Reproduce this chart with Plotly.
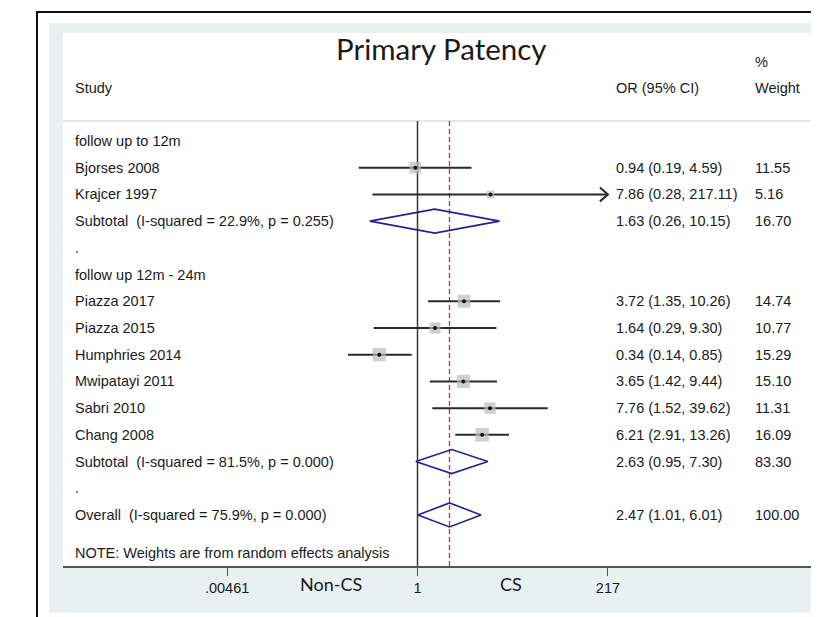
import math
import plotly.graph_objects as go

# ---------------- data ----------------
title = "Primary Patency"
group_labels = ["follow up to 12m", "follow up 12m - 24m"]
group_rows = [0, 5]

studies = ["Bjorses 2008", "Krajcer 1997", "Piazza 2017", "Piazza 2015",
           "Humphries 2014", "Mwipatayi 2011", "Sabri 2010", "Chang 2008"]
study_rows = [1, 2, 6, 7, 8, 9, 10, 11]
study_or = [0.94, 7.86, 3.72, 1.64, 0.34, 3.65, 7.76, 6.21]
study_lo = [0.19, 0.28, 1.35, 0.29, 0.14, 1.42, 1.52, 2.91]
study_hi = [4.59, 217.11, 10.26, 9.30, 0.85, 9.44, 39.62, 13.26]
study_w = [11.55, 5.16, 14.74, 10.77, 15.29, 15.10, 11.31, 16.09]

pooled_labels = ["Subtotal\u00a0 (I-squared = 22.9%, p = 0.255)",
                 "Subtotal\u00a0 (I-squared = 81.5%, p = 0.000)",
                 "Overall\u00a0 (I-squared = 75.9%, p = 0.000)"]
pooled_rows = [3, 12, 14]
pooled_or = [1.63, 2.63, 2.47]
pooled_lo = [0.26, 0.95, 1.01]
pooled_hi = [10.15, 7.30, 6.01]
pooled_w = [16.70, 83.30, 100.00]

spacer_rows = [4, 13]

tick_vals = [0.00461, 1, 217]
tick_text = [".00461", "1", "217"]
favours = ["Non-CS", "CS"]
note = "NOTE: Weights are from random effects analysis"

# ---------------- layout geometry (page pixels; page body has 8px margin) ----------------
OFF = 8
W, H = 819 - OFF, 617 - OFF
ML, MT, MB = 63 - OFF, 33 - OFF, 51
PW, PH = W - ML, H - MT - MB
PX_DEC = 81.5
X_ONE = 417.5
def px2paper_x(px): return (px - OFF - ML) / PW
def py2paper_y(py): return (H - MB - (py - OFF)) / PH

xr = [-(X_ONE - 63) / PX_DEC, (819 - X_ONE) / PX_DEC]
yr = [-15.91, 4.043]

FONT = "Liberation Sans, Arial, sans-serif"
TITLE_FONT = "Lato, Open Sans, sans-serif"
TXT = "#1a1a1a"
fs = 14.5

def fmt_ci(o, l, h):
    return f"{o:.2f} ({l:.2f}, {h:.2f})"

fig = go.Figure()

header_y = 0.749
bottom_y = yr[0]

# null line and overall line
fig.add_trace(go.Scatter(x=[1, 1], y=[header_y, bottom_y], mode="lines",
                         line=dict(color="#3a3a3a", width=1.5), hoverinfo="skip", showlegend=False))
fig.add_trace(go.Scatter(x=[pooled_or[-1]] * 2, y=[header_y, bottom_y], mode="lines",
                         line=dict(color="#c03434", width=1.3, dash="5px,3px"),
                         hoverinfo="skip", showlegend=False))

xmax_tick = tick_vals[-1]
# CI lines
for r, lo, hi in zip(study_rows, study_lo, study_hi):
    y = -r
    hh = min(hi, xmax_tick)
    fig.add_trace(go.Scatter(x=[lo, hh], y=[y, y], mode="lines",
                             line=dict(color="#2a2a2a", width=2), hoverinfo="skip", showlegend=False))
    if hi > xmax_tick:
        back = 10 ** (math.log10(xmax_tick) - 8 / PX_DEC)
        fig.add_trace(go.Scatter(x=[back, xmax_tick, back], y=[y + 0.26, y, y - 0.26], mode="lines",
                                 line=dict(color="#2a2a2a", width=2), hoverinfo="skip", showlegend=False))

# weight boxes
wmax = max(study_w)
fig.add_trace(go.Scatter(
    x=study_or, y=[-r for r in study_rows], mode="markers",
    marker=dict(symbol="square", color="#bababa",
                size=[13.5 * math.sqrt(w / wmax) for w in study_w], line=dict(width=0)),
    hoverinfo="skip", showlegend=False))
fig.add_trace(go.Scatter(
    x=study_or, y=[-r for r in study_rows], mode="markers",
    marker=dict(symbol="circle", color="#111111", size=4),
    hoverinfo="skip", showlegend=False))

# diamonds
for r, o, lo, hi in zip(pooled_rows, pooled_or, pooled_lo, pooled_hi):
    y = -r
    h = 0.45
    fig.add_trace(go.Scatter(x=[lo, o, hi, o, lo], y=[y, y + h, y, y - h, y], mode="lines",
                             line=dict(color="#23238a", width=1.6), hoverinfo="skip", showlegend=False))

ann = []
def add_text(text, px, y, yref="y", size=fs, font=FONT, xanchor="left", color=TXT):
    ann.append(dict(text=text, x=px2paper_x(px), xref="paper", y=y, yref=yref,
                    xanchor=xanchor, yanchor="middle", showarrow=False,
                    font=dict(family=font, size=size, color=color)))

COL_L, COL_OR, COL_W = 73, 614, 753
# headers
add_text(title, 441, 3.46, size=29.5, font=TITLE_FONT, xanchor="center")
add_text("Study", COL_L, 1.98)
add_text("OR (95% CI)", COL_OR, 1.98)
add_text("%", COL_W, 2.96)
add_text("Weight", COL_W, 1.98)

for g, r in zip(group_labels, group_rows):
    add_text(g, COL_L, -r)
for s, r, o, lo, hi, w in zip(studies, study_rows, study_or, study_lo, study_hi, study_w):
    add_text(s, COL_L, -r)
    add_text(fmt_ci(o, lo, hi), COL_OR, -r)
    add_text(f"{w:.2f}", COL_W, -r)
for s, r, o, lo, hi, w in zip(pooled_labels, pooled_rows, pooled_or, pooled_lo, pooled_hi, pooled_w):
    add_text(s, COL_L, -r)
    add_text(fmt_ci(o, lo, hi), COL_OR, -r)
    add_text(f"{w:.2f}", COL_W, -r)
for r in spacer_rows:
    add_text(".", COL_L, -r)
add_text(note, COL_L, -15.42)

# favours labels
for lab, px in zip(favours, [331, 511]):
    ann.append(dict(text=lab, x=px2paper_x(px), xref="paper", y=py2paper_y(584), yref="paper",
                    xanchor="center", yanchor="middle", showarrow=False,
                    font=dict(family=TITLE_FONT, size=18, color=TXT)))

shapes = [
    # light background
    dict(type="rect", xref="paper", yref="paper", layer="below",
         x0=px2paper_x(49), x1=px2paper_x(830), y0=py2paper_y(613), y1=py2paper_y(23),
         fillcolor="#e8f0f2", line=dict(width=0)),
    # white plot region
    dict(type="rect", xref="paper", yref="paper", layer="below",
         x0=px2paper_x(63), x1=px2paper_x(830), y0=py2paper_y(566), y1=py2paper_y(33),
         fillcolor="#ffffff", line=dict(width=0)),
    # outer black frame
    dict(type="line", xref="paper", yref="paper", layer="above",
         x0=px2paper_x(37), x1=px2paper_x(37), y0=py2paper_y(625), y1=py2paper_y(12),
         line=dict(color="#111111", width=2)),
    dict(type="line", xref="paper", yref="paper", layer="above",
         x0=px2paper_x(36), x1=px2paper_x(830), y0=py2paper_y(12), y1=py2paper_y(12),
         line=dict(color="#111111", width=2)),
    # header separator
    dict(type="line", xref="paper", yref="y", layer="below",
         x0=0, x1=1, y0=header_y, y1=header_y,
         line=dict(color="#cfcfcf", width=1)),
]

fig.update_layout(
    width=W, height=H,
    margin=dict(l=ML, r=0, t=MT, b=MB, pad=0),
    paper_bgcolor="#ffffff", plot_bgcolor="#ffffff",
    showlegend=False,
    annotations=ann, shapes=shapes,
    xaxis=dict(type="log", range=xr, tickvals=tick_vals, ticktext=tick_text,
               ticks="outside", ticklen=8, tickwidth=1, tickcolor="#555555",
               showline=True, linecolor="#555555", linewidth=2,
               showgrid=False, zeroline=False, fixedrange=True,
               tickfont=dict(family=FONT, size=14.5, color=TXT)),
    yaxis=dict(range=yr, visible=False, showgrid=False, zeroline=False, fixedrange=True),
)

fig.write_html("out.html")
